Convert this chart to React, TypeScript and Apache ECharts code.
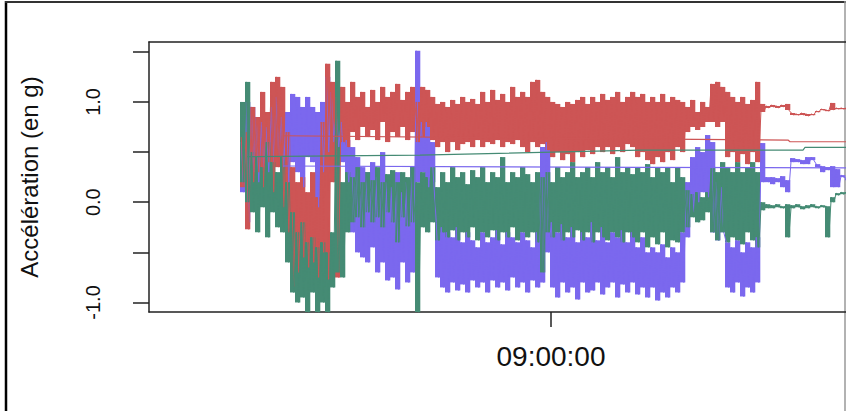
import React, { useEffect, useRef } from "react";
import * as echarts from "echarts";

// Sample bins: one (high, low) reading pair per bin of STEP seconds, starting at T0 (seconds of day)
const T0 = 29290;
const STEP = 50;

// Red trace (g): highest and lowest reading in each bin
const redHi = [
  0.65, 0.7, 0.95, 0.85, 1.1, 0.9, 1.2, 1.25, 1.15, 0.7,
  0.35, 0.2, 0.25, 0.1, 0.3, 0.05, 0.8, 1.38, 1.2, 1.05,
  1.15, 1.0, 1.2, 1.05, 1.1, 0.95, 1.12, 1.0, 1.15, 1.05,
  1.1, 1.18, 1.02, 1.1, 1.15, 1.0, 1.15, 1.12, 1.05, 0.98,
  1.0, 0.95, 1.02, 0.98, 1.05, 1.0, 1.03, 0.98, 1.1, 1.0,
  1.12, 1.02, 1.08, 1.0, 1.15, 1.05, 1.1, 1.05, 1.2, 1.22,
  1.1, 1.05, 1.0, 0.98, 0.95, 1.0, 0.98, 1.02, 1.05, 0.98,
  1.05, 1.0, 1.08, 1.02, 1.05, 1.1, 1.0, 1.05, 1.1, 1.05,
  1.08, 1.0, 1.05, 1.0, 1.08, 1.0, 1.05, 1.02, 1.0, 0.95,
  1.02, 0.9, 1.0, 0.95, 1.18, 1.2, 1.15, 1.1, 1.05, 1.0,
  1.05, 0.98, 1.02, 1.2, 0.98, 0.96, 0.97, 0.96, 0.97, 0.98,
  0.89, 0.88, 0.89, 0.88, 0.88, 0.91, 0.93, 0.92, 0.99, 0.94,
  0.94, 0.94,
];
const redLo = [
  0.15, -0.27, 0.2, 0.3, 0.15, 0.4, 0.1, 0.35, -0.05, -0.3,
  -0.84, -0.7, -0.55, -0.65, -0.6, -0.75, -0.5, -0.77, 0.2, -0.75,
  0.6, 0.55, 0.7, 0.62, 0.75, 0.65, 0.72, 0.62, 0.8, 0.6,
  0.7, 0.65, 0.75, 0.62, 0.7, 0.6, 0.65, 0.75, 0.62, 0.55,
  0.6, 0.5, 0.6, 0.52, 0.58, 0.6, 0.55, 0.62, 0.55, 0.6,
  0.58, 0.62, 0.55, 0.6, 0.58, 0.62, 0.55, 0.5, 0.6, 0.55,
  0.58, 0.52, 0.45, 0.5, 0.42, 0.48, 0.4, 0.5, 0.45, 0.52,
  0.48, 0.55, 0.5, 0.55, 0.48, 0.55, 0.5, 0.58, 0.55, 0.45,
  0.5, 0.42, 0.38, 0.45, 0.4, 0.5, 0.42, 0.55, 0.5, 0.7,
  0.75, 0.72, 0.75, 0.8, 0.8, 0.75, 0.8, 0.45, 0.5, 0.4,
  0.48, 0.38, 0.5, 0.4, 0.9, 0.94, 0.95, 0.94, 0.95, 0.92,
  0.87, 0.87, 0.87, 0.86, 0.87, 0.9, 0.92, 0.91, 0.92, 0.93,
  0.93, 0.93,
];

// Blue trace (g)
const blueHi = [
  0.6, 1.0, 0.95, 0.85, 0.8, 0.75, 0.95, 1.05, 0.85, 0.9,
  1.08, 1.05, 0.95, 1.05, 0.95, 0.9, 1.0, 1.25, 1.1, 0.9,
  0.8, 0.62, 0.55, 0.45, 0.35, 0.3, 0.4, 0.25, 0.5, 0.2,
  0.15, 0.3, 0.1, 0.2, 0.35, 1.51, 0.8, 0.8, 0.6, -0.2,
  -0.25, -0.3, -0.35, -0.25, -0.4, -0.3, -0.38, -0.45, -0.3, -0.4,
  -0.35, -0.28, -0.42, -0.3, -0.35, -0.4, -0.3, -0.38, -0.45, -0.3,
  0.55, 0.6, -0.2, -0.3, -0.22, -0.35, -0.25, -0.4, -0.3, -0.35,
  -0.2, -0.38, -0.25, -0.4, -0.3, -0.35, -0.28, -0.4, -0.3, -0.45,
  -0.35, -0.5, -0.45, -0.5, -0.42, -0.55, -0.45, -0.5, -0.3, 0.2,
  0.45, 0.55, 0.5, 0.67, 0.6, 0.2, 0.15, -0.4, -0.45, -0.38,
  -0.5, -0.4, -0.45, -0.35, 0.59, 0.25, 0.25, 0.24, 0.26, 0.22,
  0.44, 0.43, 0.42, 0.45, 0.45, 0.38, 0.36, 0.35, 0.36, 0.33,
  0.27, 0.24,
];
const blueLo = [
  0.1, -0.2, 0.3, 0.2, 0.35, 0.3, 0.4, 0.45, 0.35, 0.2,
  0.4, 0.3, 0.15, 0.45, 0.4, -0.05, 0.3, 0.5, 0.6, 0.55,
  0.4, 0.2, -0.3, -0.5, -0.55, -0.6, -0.45, -0.7, -0.6, -0.78,
  -0.75, -0.87, -0.6, -0.8, -0.7, 0.2, 0.3, 0.15, 0.2, -0.75,
  -0.85, -0.9, -0.8, -0.88, -0.82, -0.9, -0.78, -0.85, -0.8, -0.9,
  -0.78, -0.85, -0.8, -0.88, -0.75, -0.85, -0.8, -0.9, -0.78, -0.85,
  -0.8, -0.5, -0.85, -0.95, -0.8, -0.9, -0.85, -0.97, -0.8, -0.9,
  -0.88, -0.8, -0.92, -0.85, -0.8, -0.95, -0.82, -0.9, -0.8, -0.92,
  -0.85, -0.95, -0.85, -0.98, -0.9, -0.95, -0.85, -0.9, -0.8, -0.35,
  -0.1, 0.0, 0.1, 0.05, -0.3, -0.38, -0.3, -0.85, -0.9, -0.8,
  -0.94, -0.85, -0.9, -0.8, 0.2, 0.2, 0.18, 0.2, 0.15, 0.1,
  0.4, 0.4, 0.38, 0.38, 0.42, 0.35, 0.3, 0.32, 0.15, 0.15,
  0.25, 0.22,
];

// Green trace (g)
const greenHi = [
  1.0, 1.2, 0.5, 0.45, 0.35, 0.6, 0.4, 0.3, 0.45, 0.2,
  -0.1, -0.3, -0.2, -0.4, -0.35, -0.45, -0.4, -0.5, -0.3, 1.41,
  0.2, 0.3, 0.25, 0.35, 0.2, 0.3, 0.22, 0.35, 0.2, 0.28,
  0.32, 0.2, 0.3, 0.25, 0.35, 0.2, 0.3, 0.25, 0.35, 0.15,
  0.3, 0.2, 0.35, 0.25, 0.3, 0.18, 0.32, 0.25, 0.35, 0.2,
  0.3, 0.25, 0.45, 0.2, 0.3, 0.25, 0.35, 0.28, 0.2, 0.3,
  0.25, 0.3, 0.2, 0.35, 0.25, 0.3, 0.4, 0.25, 0.3, 0.35,
  0.25, 0.4, 0.3, 0.35, 0.25, 0.45, 0.3, 0.35, 0.28, 0.35,
  0.3, 0.38, 0.25, 0.35, 0.3, 0.35, 0.2, 0.35, 0.25, 0.12,
  0.08, 0.1, 0.05, 0.1, 0.35, 0.3, 0.4, 0.35, 0.3, 0.4,
  0.3, 0.35, 0.4, 0.3, 0.0, -0.02, -0.03, -0.02, -0.04, -0.02,
  -0.03, -0.02, -0.04, -0.03, -0.02, -0.04, -0.03, -0.04, 0.05, 0.09,
  0.1, 0.1,
];
const greenLo = [
  0.2, 0.0, -0.1, -0.3, -0.05, -0.35, -0.1, -0.25, -0.3, -0.6,
  -0.9, -1.0, -0.95, -1.1, -0.9, -1.1, -1.0, -1.1, -0.85, -0.7,
  -0.75, -0.3, -0.2, -0.15, -0.25, -0.1, -0.2, -0.15, -0.25, -0.1,
  -0.2, -0.4, -0.15, -0.24, -0.2, -1.1, -0.25, -0.3, -0.2, -0.38,
  -0.3, -0.35, -0.28, -0.38, -0.3, -0.35, -0.25, -0.38, -0.3, -0.35,
  -0.28, -0.38, -0.3, -0.35, -0.25, -0.38, -0.3, -0.35, -0.3, -0.4,
  -0.7, -0.3, -0.35, -0.3, -0.38, -0.3, -0.35, -0.28, -0.38, -0.3,
  -0.4, -0.3, -0.35, -0.38, -0.3, -0.35, -0.4, -0.3, -0.35, -0.4,
  -0.3, -0.45, -0.35, -0.42, -0.3, -0.45, -0.38, -0.4, -0.3, -0.25,
  -0.15, -0.2, -0.18, -0.1, -0.3, -0.38, -0.3, -0.4, -0.35, -0.38,
  -0.42, -0.3, -0.38, -0.45, -0.08, -0.06, -0.06, -0.05, -0.06, -0.35,
  -0.06, -0.05, -0.07, -0.06, -0.05, -0.06, -0.05, -0.35, 0.0, 0.07,
  0.08, 0.09,
];

// Long connecting segments (time in seconds of day, value in g)
const redLinkT = [29720, 32490, 34770, 34790, 35550];
const redLinkV = [0.663, 0.637, 0.62, 0.603, 0.603];
const greenLinkT = [29360, 31090, 33290, 34920, 34940, 35550];
const greenLinkV = [0.454, 0.47, 0.52, 0.52, 0.547, 0.547];
const blueLinkT = [29720, 33290, 35550];
const blueLinkV = [0.361, 0.348, 0.341];

// Axes
const X_MIN = 28380;
const X_MAX = 35350;
const xLabelTimes = [32400];
const Y_MIN = -1.095;
const Y_MAX = 1.598;
const yTickValues = [-1, -0.5, 0, 0.5, 1, 1.5];
const yLabelValues = [-1, 0, 1];

const RED = "#CD5555";
const BLUE = "#7B68EE";
const GREEN = "#458B74";
const INK = "#222";

function bins(hi: number[], lo: number[]) {
  return hi.map((h, i) => [T0 + i * STEP, lo[i], h]);
}

function zigzag(hi: number[], lo: number[]) {
  const out: [number, number][] = [];
  for (let i = 0; i < hi.length; i++) {
    out.push([T0 + i * STEP + STEP * 0.25, hi[i]]);
    out.push([T0 + i * STEP + STEP * 0.75, lo[i]]);
  }
  return out;
}

function zip(t: number[], v: number[]) {
  return t.map((tt, i) => [tt, v[i]]);
}

function fmtTime(s: number) {
  const h = Math.floor(s / 3600);
  const m = Math.floor((s % 3600) / 60);
  const sec = Math.round(s % 60);
  const p = (n: number) => String(n).padStart(2, "0");
  return `${p(h)}:${p(m)}:${p(sec)}`;
}

export default function App() {
  const ref = useRef<HTMLDivElement>(null);
  useEffect(() => {
    if (!ref.current) return;
    const chart = echarts.init(ref.current, undefined, { renderer: "svg" });
    const font = "'Liberation Sans', Arial, sans-serif";

    const rangeSeries = (name: string, data: any, color: string) => ({
      name,
      type: "custom",
      data,
      silent: true,
      clip: true,
      encode: { x: 0, y: [1, 2] },
      renderItem: (params: any, api: any) => {
        const t = api.value(0);
        const lo = api.value(1);
        const hi = api.value(2);
        const top = api.coord([t, hi]);
        const bot = api.coord([t, lo]);
        const w = api.size([STEP, 0])[0];
        const h = Math.max(bot[1] - top[1], 1.2);
        return {
          type: "rect",
          shape: { x: top[0], y: top[1], width: w + 0.3, height: h },
          style: { fill: color },
        };
      },
    });

    const lineSeries = (name: string, data: any, color: string, w: number) => ({
      name,
      type: "line",
      data,
      showSymbol: false,
      symbol: "none",
      lineStyle: { color, width: w, join: "bevel" },
      itemStyle: { color },
      silent: true,
    });

    chart.setOption({
      animation: false,
      backgroundColor: "#ffffff",
      grid: { left: 149, top: 42, right: 0, bottom: 99, show: false },
      xAxis: [
        {
          type: "value",
          position: "bottom",
          min: X_MIN,
          max: X_MAX,
          axisLine: { show: true, onZero: false, lineStyle: { color: INK, width: 1.5 } },
          splitLine: { show: false },
          axisTick: {
            show: true,
            customValues: xLabelTimes,
            length: 15,
            lineStyle: { color: INK, width: 1.5 },
          },
          axisLabel: {
            show: true,
            customValues: xLabelTimes,
            formatter: (v: number) => fmtTime(v),
            fontSize: 28,
            fontFamily: font,
            color: "#111",
            margin: 30,
          },
        },
        {
          type: "value",
          position: "top",
          min: X_MIN,
          max: X_MAX,
          axisLine: { show: true, onZero: false, lineStyle: { color: INK, width: 1.5 } },
          splitLine: { show: false },
          axisTick: { show: false },
          axisLabel: { show: false },
        },
      ],
      yAxis: {
        type: "value",
        min: Y_MIN,
        max: Y_MAX,
        axisLine: { show: true, onZero: false, lineStyle: { color: INK, width: 1.5 } },
        splitLine: { show: false },
        axisTick: {
          show: true,
          customValues: yTickValues,
          length: 16,
          lineStyle: { color: INK, width: 1.5 },
        },
        axisLabel: {
          customValues: yLabelValues,
          formatter: (v: number) => v.toFixed(1),
          rotate: 90,
          fontSize: 20,
          fontFamily: font,
          color: "#111",
          margin: 46,
        },
        name: "Accélération (en g)",
        nameLocation: "middle",
        nameRotate: 90,
        nameGap: 108,
        nameTextStyle: { fontSize: 24, fontFamily: font, color: "#111" },
      },
      series: [
        rangeSeries("bleu", bins(blueHi, blueLo), BLUE),
        lineSeries("bleu-signal", zigzag(blueHi, blueLo), BLUE, 1),
        rangeSeries("rouge", bins(redHi, redLo), RED),
        lineSeries("rouge-signal", zigzag(redHi, redLo), RED, 1),
        rangeSeries("vert", bins(greenHi, greenLo), GREEN),
        lineSeries("vert-signal", zigzag(greenHi, greenLo), GREEN, 1),
        lineSeries("rouge-lien", zip(redLinkT, redLinkV), RED, 1.2),
        lineSeries("vert-lien", zip(greenLinkT, greenLinkV), GREEN, 1.2),
        lineSeries("bleu-lien", zip(blueLinkT, blueLinkV), BLUE, 1.2),
      ],
      graphic: [
        { type: "line", shape: { x1: 6, y1: 1, x2: 6, y2: 411 }, style: { stroke: "#000", lineWidth: 2.5 } },
        { type: "line", shape: { x1: 5, y1: 2, x2: 846, y2: 2 }, style: { stroke: "#333", lineWidth: 2 } },
        { type: "line", shape: { x1: 845, y1: 1, x2: 845, y2: 411 }, style: { stroke: "#999", lineWidth: 1.5 } },
      ],
    });
    return () => chart.dispose();
  }, []);
  return (
    <div
      ref={ref}
      style={{ position: "absolute", left: 0, top: 0, width: 846, height: 411 }}
    />
  );
}
